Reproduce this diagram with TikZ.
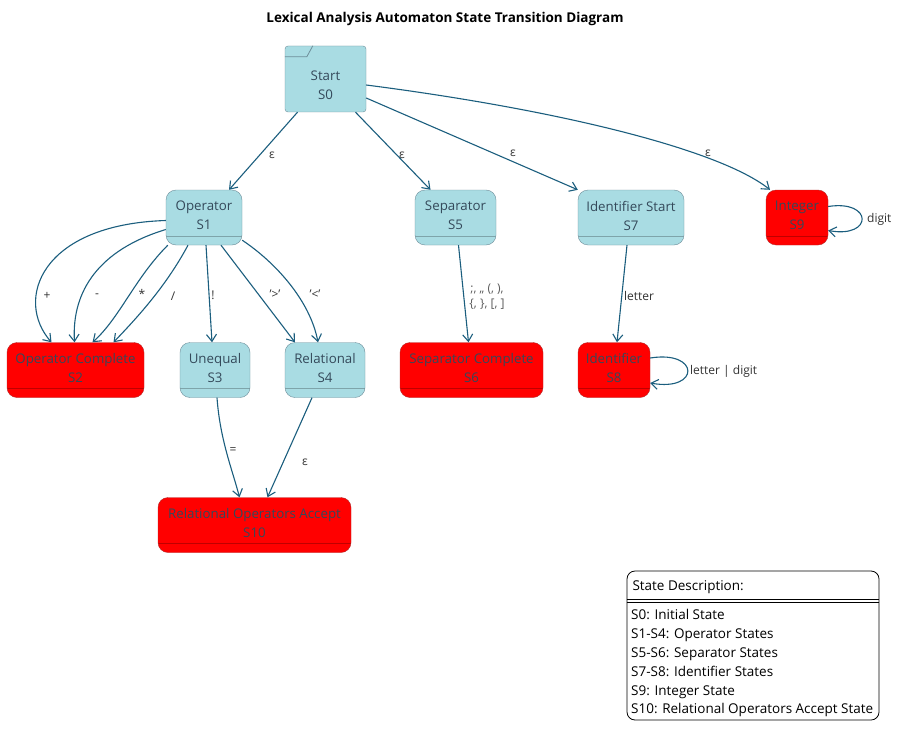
\documentclass[tikz,border=0pt]{standalone}
\usepackage{fontspec}
\setmainfont{Open Sans}
\usetikzlibrary{arrows.meta}
\definecolor{stateblue}{HTML}{A9DCE3}
\definecolor{stateedge}{HTML}{6E8E9A}
\definecolor{acceptedge}{HTML}{B42828}
\definecolor{statetext}{HTML}{34495A}
\definecolor{edgeblue}{HTML}{1B5E7E}
\definecolor{labeltext}{HTML}{333333}
\begin{document}
\begin{tikzpicture}[x=1pt,y=-1pt,
		state/.style={rectangle,rounded corners=10pt,draw=stateedge,fill=stateblue,text=statetext,align=center,
			minimum height=55pt,inner sep=0pt,text depth=4pt,font=\fontsize{13.3}{19}\selectfont,
			path picture={\draw[black,opacity=0.25] ([yshift=9pt]path picture bounding box.south west) -- ([yshift=9pt]path picture bounding box.south east);}},
		accept/.style={state,fill=red,draw=acceptedge},
		startstate/.style={rectangle,rounded corners=3pt,draw=stateedge,fill=stateblue,text=statetext,align=center,
			minimum width=81pt,minimum height=66pt,inner sep=0pt,text height=42pt,font=\fontsize{13.3}{19}\selectfont},
		trans/.style={draw=edgeblue,line width=1.1pt,-{Straight Barb[length=7pt,width=10pt]}},
		lbl/.style={text=labeltext,font=\fontsize{12}{15}\selectfont,inner sep=1pt}]
	\useasboundingbox[fill=white] (0,0) rectangle (904,741);

	\node[font=\bfseries\fontsize{13.5}{16}\selectfont] (title) at (445,19) {Lexical Analysis Automaton State Transition Diagram};

	\node[startstate] (s0) at (325.5,79) {Start\\S0};
	\draw[stateedge,line width=0.8pt] ([yshift=-11pt]s0.north west) -- ([shift={(22pt,-11pt)}]s0.north west) -- ([xshift=28pt]s0.north west);
	\node[state,minimum width=76pt] (s1) at (204,217.5) {Operator\\S1};
	\node[accept,minimum width=137pt] (s2) at (75.5,370) {Operator Complete\\S2};
	\node[state,minimum width=70pt] (s3) at (215,370) {Unequal\\S3};
	\node[state,minimum width=80pt] (s4) at (325,370) {Relational\\S4};
	\node[state,minimum width=81pt] (s5) at (455.5,217.5) {Separator\\S5};
	\node[accept,minimum width=143pt] (s6) at (471.5,370) {Separator Complete\\S6};
	\node[state,minimum width=106pt] (s7) at (631,217.5) {Identifier Start\\S7};
	\node[accept,minimum width=72pt] (s8) at (614,370) {Identifier\\S8};
	\node[accept,minimum width=62pt] (s9) at (797,217.5) {Integer\\S9};
	\node[accept,minimum width=193pt] (s10) at (254.5,525) {Relational Operators Accept\\S10};

	\draw[trans] ([xshift=-28pt]s0.south) -- ([xshift=25pt]s1.north);
	\draw[trans] ([xshift=30pt]s0.south) -- ([xshift=-25pt]s5.north);
	\draw[trans] ([yshift=-19pt]s0.east) -- (s7.north west);
	\draw[trans] ([yshift=-6pt]s0.east) .. controls +(194,25) and +(-50,-40) .. ([xshift=-27pt]s9.north);

	\draw[trans] ([yshift=-3pt]s1.west) .. controls +(-126,4) and +(-37,-42) .. ([xshift=-24pt]s2.north);
	\draw[trans] ([yshift=-12pt]s1.west) .. controls +(-66,20) and +(-3,-52) .. ([xshift=-1pt]s2.north);
	\draw[trans] ([xshift=2pt]s1.south west) .. controls +(-33,33) and +(27,-24) .. ([xshift=17pt]s2.north);
	\draw[trans] ([xshift=-16pt]s1.south) .. controls +(-23,43) and +(21,-22) .. ([xshift=38pt]s2.north);
	\draw[trans] ([xshift=2pt]s1.south) -- ([xshift=-3pt]s3.north);
	\draw[trans] ([xshift=17pt]s1.south) -- ([xshift=-30pt]s4.north);
	\draw[trans] ([yshift=5pt]s1.south east) .. controls +(33,22) and +(-8,-42) .. ([xshift=-7pt]s4.north);

	\draw[trans] ([xshift=2pt]s3.south) .. controls +(3,42) and +(-7,-27) .. ([xshift=-15pt]s10.north);
	\draw[trans] ([xshift=-13pt]s4.south) -- ([xshift=13pt]s10.north);
	\draw[trans] ([xshift=3pt]s5.south) -- ([xshift=-3pt]s6.north);
	\draw[trans] ([xshift=-4pt]s7.south) -- ([xshift=3pt]s8.north);
	\draw[trans] ([yshift=12pt]s8.east) .. controls +(50,-8) and +(50,9) .. ([yshift=-13pt]s8.east);
	\draw[trans] ([yshift=11pt]s9.east) .. controls +(45,-7) and +(45,8) .. ([yshift=-13pt]s9.east);

	\node[lbl] (e01) at (272,155) {ε};
	\node[lbl] (e05) at (402,155) {ε};
	\node[lbl] (e07) at (513,153) {ε};
	\node[lbl] (e09) at (708,153) {ε};
	\node[lbl] (lplus) at (47,296) {+};
	\node[lbl] (lminus) at (97,296) {-};
	\node[lbl] (ltimes) at (142,294) {*};
	\node[lbl] (ldiv) at (173,296) {/};
	\node[lbl] (lnot) at (213,295) {!};
	\node[lbl] (lgt) at (275,294) {'>'};
	\node[lbl] (llt) at (315,294) {'<'};
	\node[lbl] (leq) at (233,451) {=};
	\node[lbl] (e410) at (305,462) {ε};
	\node[lbl,align=center,text=labeltext!80,font=\fontsize{12}{15}\selectfont] (lsep) at (487,297) {;, ,, (, ),\\\{, \}, [, ]};
	\node[lbl] (lletter) at (639,296) {letter};
	\node[lbl,anchor=west] (lld) at (689,371) {letter | digit};
	\node[lbl,anchor=west] (ldigit) at (866,219) {digit};

	\node[draw=black,rounded corners=8pt,minimum width=252pt,minimum height=149pt,line width=0.8pt] (legend) at (753,645.5) {};
	\node[anchor=west,font=\fontsize{13.5}{18.8}\selectfont] (legendhead) at (629,587) {State Description:};
	\draw ([yshift=-29pt]legend.north west) -- ([yshift=-29pt]legend.north east);
	\draw ([yshift=-32pt]legend.north west) -- ([yshift=-32pt]legend.north east);
	\node[anchor=north west,align=left,inner sep=0pt,font=\fontsize{13.5}{18.8}\selectfont] (legendbody) at (631,609.5) {S0: Initial State\\S1-S4: Operator States\\S5-S6: Separator States\\S7-S8: Identifier States\\S9: Integer State\\S10: Relational Operators Accept State};
\end{tikzpicture}
\end{document}
